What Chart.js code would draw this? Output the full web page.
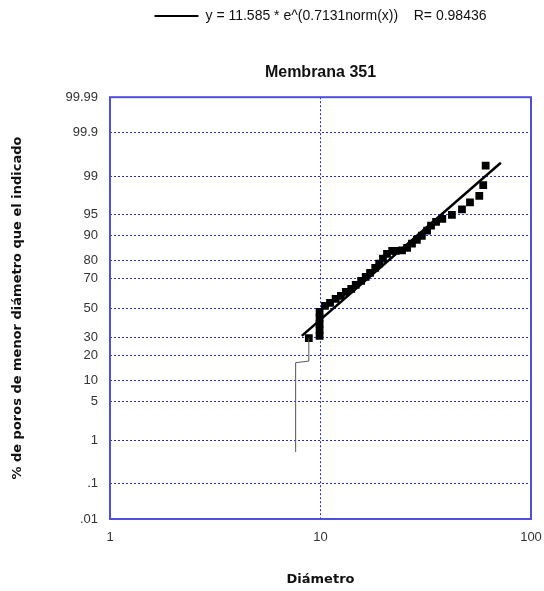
<!DOCTYPE html>
<html lang="es">
<head>
<meta charset="UTF-8">
<title>Membrana 351</title>
<script src="https://cdn.jsdelivr.net/npm/chart.js"></script>
<style>
  html, body { margin: 0; padding: 0; background: #ffffff; }
  #wrap { width: 544px; height: 591px; }
</style>
</head>
<body>
<div id="wrap"><canvas id="grafico" width="544" height="591"></canvas></div>
<script>
// diámetros medidos y % acumulado de poros menores
const diametro = [8.8, 9.9, 9.9, 9.9, 9.9, 9.9, 10.5, 11.1, 11.8, 12.5, 13.2, 14.0, 14.7, 15.6, 16.4,
  17.2, 18.2, 19.0, 19.8, 20.7, 21.9, 22.8, 24.4, 25.8, 27.2, 28.7, 30.3, 32.1, 33.5, 35.4,
  37.9, 42.1, 47.0, 51.3, 56.8, 59.3, 60.9];
const porcentaje = [29.8, 31.2, 35.0, 39.0, 43.1, 47.3, 51.6, 53.7, 56.5, 58.6, 61.3, 63.3, 65.9, 68.5, 70.9,
  73.3, 76.1, 78.3, 80.8, 83.1, 84.4, 84.4, 84.6, 85.6, 87.2, 88.6, 89.9, 91.4, 92.7, 93.6,
  94.2, 95.0, 95.9, 96.9, 97.6, 98.5, 99.4];

// tramo inicial (línea fina)
const tramoX = [7.62, 7.62, 8.8, 8.8];
const tramoY = [0.56, 16.8, 17.5, 29.8];

// recta de ajuste
const ajusteX = [8.15, 71.9];
const ajusteY = [31.2, 99.48];
const ajusteLabel = "y = 11.585 * e^(0.7131norm(x))    R= 0.98436";

const xTicks = [1, 10, 100];
const yTicks = [0.01, 0.1, 1, 5, 10, 20, 30, 50, 70, 80, 90, 95, 99, 99.9, 99.99];
const yTickLabels = [".01", ".1", "1", "5", "10", "20", "30", "50", "70", "80", "90", "95", "99", "99.9", "99.99"];

const AZUL_GRID = "#2a2ad8";
const AZUL_MARCO = "#4f4fe0";

// inversa de la normal (Acklam), p en %
function probit(p) {
  const q = p / 100;
  const a = [-39.69683028665376, 220.9460984245205, -275.9285104469687, 138.3577518672690, -30.66479806614716, 2.506628277459239];
  const b = [-54.47609879822406, 161.5858368580409, -155.6989798598866, 66.80131188771972, -13.28068155288572];
  const c = [-0.007784894002430293, -0.3223964580411365, -2.400758277161838, -2.549732539343734, 4.374664141464968, 2.938163982698783];
  const d = [0.007784695709041462, 0.3224671290700398, 2.445134137142996, 3.754408661907416];
  const pl = 0.02425;
  if (q < pl) {
    const r = Math.sqrt(-2 * Math.log(q));
    return (((((c[0] * r + c[1]) * r + c[2]) * r + c[3]) * r + c[4]) * r + c[5]) / ((((d[0] * r + d[1]) * r + d[2]) * r + d[3]) * r + 1);
  }
  if (q <= 1 - pl) {
    const s = q - 0.5, r = s * s;
    return (((((a[0] * r + a[1]) * r + a[2]) * r + a[3]) * r + a[4]) * r + a[5]) * s / (((((b[0] * r + b[1]) * r + b[2]) * r + b[3]) * r + b[4]) * r + 1);
  }
  const r = Math.sqrt(-2 * Math.log(1 - q));
  return -(((((c[0] * r + c[1]) * r + c[2]) * r + c[3]) * r + c[4]) * r + c[5]) / ((((d[0] * r + d[1]) * r + d[2]) * r + d[3]) * r + 1);
}

const puntos = (xs, ys) => xs.map((x, i) => ({ x: x, y: probit(ys[i]) }));

// marco azul alrededor del área de trazado
const marco = {
  id: "marco",
  beforeDatasetsDraw(chart) {
    const { ctx, chartArea: a } = chart;
    ctx.save();
    ctx.strokeStyle = AZUL_MARCO;
    ctx.lineWidth = 2;
    ctx.strokeRect(a.left, a.top, a.right - a.left, a.bottom - a.top);
    ctx.restore();
  }
};

const fuenteTick = { family: "'Liberation Sans', Arial, sans-serif", size: 13 };
const fuenteEje = { family: "'DejaVu Sans', Verdana, sans-serif", size: 13, weight: "bold" };

new Chart(document.getElementById("grafico"), {
  type: "scatter",
  data: {
    datasets: [
      {
        label: ajusteLabel,
        data: puntos(ajusteX, ajusteY),
        showLine: true,
        borderColor: "#000000",
        backgroundColor: "#000000",
        borderWidth: 2.5,
        pointRadius: 0
      },
      {
        label: "tramo",
        data: puntos(tramoX, tramoY),
        showLine: true,
        borderColor: "#555555",
        borderWidth: 1,
        pointRadius: 0
      },
      {
        label: "datos",
        data: puntos(diametro, porcentaje),
        showLine: false,
        pointStyle: "rect",
        pointRadius: 5.5,
        pointBackgroundColor: "#000000",
        pointBorderColor: "#000000",
        pointBorderWidth: 0
      }
    ]
  },
  options: {
    responsive: false,
    animation: false,
    events: [],
    layout: { padding: { left: 10, right: 13, top: 0, bottom: 4 } },
    plugins: {
      tooltip: { enabled: false },
      legend: {
        display: true,
        position: "top",
        fullSize: false,
        weight: 3000,
        labels: {
          boxWidth: 44,
          boxHeight: 2,
          padding: 9,
          color: "#111111",
          font: { family: "'Liberation Sans', Arial, sans-serif", size: 14 },
          filter: (item) => item.datasetIndex === 0,
          generateLabels: (chart) => Chart.defaults.plugins.legend.labels.generateLabels(chart)
            .map((it) => Object.assign(it, { lineWidth: 0, fillStyle: "#000000" }))
        }
      },
      title: {
        display: true,
        text: "Membrana 351",
        fullSize: false,
        color: "#111111",
        font: { family: "'Liberation Sans', Arial, sans-serif", size: 16, weight: "bold" },
        padding: { top: 30, bottom: 15 }
      }
    },
    scales: {
      x: {
        type: "logarithmic",
        min: 1,
        max: 100,
        afterBuildTicks: (scale) => { scale.ticks = xTicks.map((v) => ({ value: v })); },
        afterFit: (scale) => { scale.height = 68; },
        ticks: {
          autoSkip: false,
          maxRotation: 0,
          padding: 0,
          color: "#333333",
          font: fuenteTick,
          callback: (value) => String(value)
        },
        grid: {
          drawTicks: true,
          tickLength: 11,
          tickColor: "rgba(0,0,0,0)",
          lineWidth: 1,
          color: (c) => (c.tick && c.tick.value === 10 ? AZUL_GRID : "rgba(0,0,0,0)")
        },
        border: { display: false, dash: [2, 2] },
        title: { display: true, text: "Diámetro", color: "#111111", font: fuenteEje, padding: { top: 4, bottom: 0 } }
      },
      y: {
        type: "linear",
        min: probit(yTicks[0]),
        max: probit(yTicks[yTicks.length - 1]),
        afterBuildTicks: (scale) => { scale.ticks = yTicks.map((p) => ({ value: probit(p) })); },
        afterFit: (scale) => { scale.width = 100; },
        ticks: {
          autoSkip: false,
          padding: 12,
          color: "#333333",
          font: fuenteTick,
          callback: (value, i) => yTickLabels[i]
        },
        grid: { drawTicks: false, lineWidth: 1, color: AZUL_GRID },
        border: { display: false, dash: [2, 2] },
        title: {
          display: true,
          text: "% de poros de menor diámetro que el indicado",
          color: "#111111",
          font: fuenteEje,
          padding: { top: 0, bottom: 4 }
        }
      }
    }
  },
  plugins: [marco]
});
</script>
</body>
</html>
